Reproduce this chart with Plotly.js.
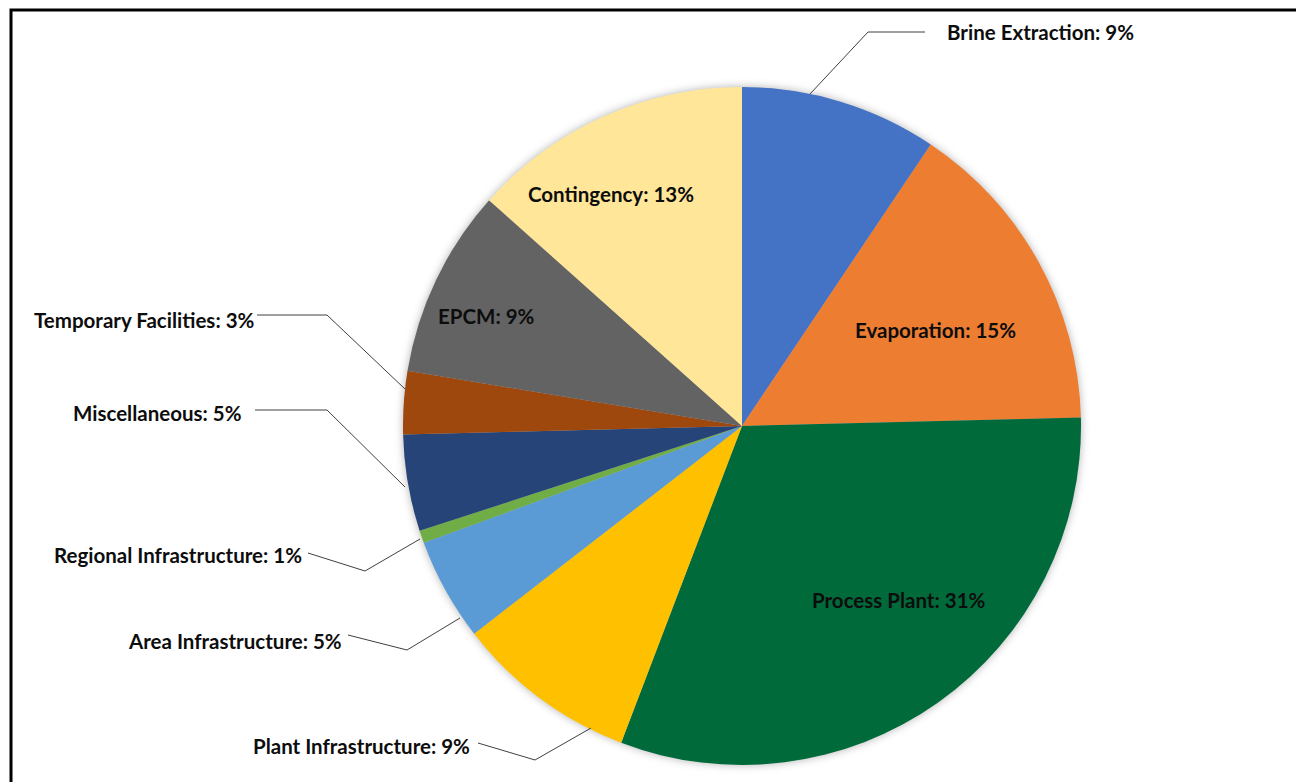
<!DOCTYPE html>
<html>
<head>
<meta charset="utf-8">
<script src="https://cdn.plot.ly/plotly-3.0.1.min.js"></script>
<style>
html,body{margin:0;padding:0;background:#fff;}
#chart{width:1296px;height:782px;}
.pielayer{filter:drop-shadow(0 0 4px rgba(0,0,0,0.30));}
</style>
</head>
<body>
<div id="chart"></div>
<script>
// Data
const categories = ["Brine Extraction","Evaporation","Process Plant","Plant Infrastructure","Area Infrastructure","Regional Infrastructure","Miscellaneous","Temporary Facilities","EPCM","Contingency"];
const shares = [9.4, 15.2, 31.2, 8.7, 4.9, 0.6, 4.6, 3.0, 9.0, 13.4];
const sliceColors = ["#4472C4","#ED7D31","#006A3A","#FFC000","#5B9BD5","#70AD47","#264478","#9E480E","#636363","#FFE699"];

const W = 1296, H = 782;
const px = x => x / W;
const py = y => 1 - y / H;

const total = shares.reduce((a,b)=>a+b,0);
const pctText = i => categories[i] + ": " + Math.round(shares[i] / total * 100) + "%";

// label placement (pixel positions) – layout only
const labelPos = [
  {x:945, y:32, anchor:"left"},
  {x:935, y:330, anchor:"center"},
  {x:899, y:600, anchor:"center"},
  {x:472, y:746, anchor:"right"},
  {x:344, y:641, anchor:"right"},
  {x:304, y:555, anchor:"right"},
  {x:244, y:413, anchor:"right"},
  {x:257, y:320, anchor:"right"},
  {x:486, y:316, anchor:"center"},
  {x:611, y:194, anchor:"center"}
];
// leader line polylines (pixel positions) – layout only
const leaders = [
  [[925,32],[868,32],[810,94]],
  null, null,
  [[478,743],[535,760],[591,728]],
  [[348,635],[407,650],[460,618]],
  [[308,553],[365,571],[420,539]],
  [[255,410],[327,410],[405,487]],
  [[257,315],[327,315],[405,389]],
  null, null
];

const annotations = categories.map((c,i)=>({
  xref:"paper", yref:"paper",
  x: px(labelPos[i].x), y: py(labelPos[i].y),
  xanchor: labelPos[i].anchor, yanchor:"middle",
  text: "<b>" + pctText(i) + "</b>",
  showarrow:false,
  font:{family:"Lato, 'Open Sans', sans-serif", size:20.5, color:"#0d0d0d"}
}));

const shapes = [];
leaders.forEach(pts=>{
  if(!pts) return;
  const d = pts.map((p,k)=>(k?"L":"M")+px(p[0])+","+py(p[1])).join(" ");
  shapes.push({type:"path", xref:"paper", yref:"paper", path:d, line:{color:"#404040", width:1}});
});
// chart frame
shapes.push({type:"rect", xref:"paper", yref:"paper", x0:px(11), y0:py(800), x1:px(1310), y1:py(10), line:{color:"#000", width:3}, fillcolor:"rgba(0,0,0,0)"});

const trace = {
  type:"pie",
  labels: categories,
  values: shares,
  sort:false,
  direction:"clockwise",
  rotation:0,
  marker:{colors:sliceColors, line:{width:0}},
  textinfo:"none",
  hoverinfo:"label+percent",
  domain:{x:[px(403), px(1081)], y:[py(765), py(87)]},
  showlegend:false
};

Plotly.newPlot("chart",[trace],{
  width:W, height:H,
  margin:{l:0,r:0,t:0,b:0},
  paper_bgcolor:"#fff",
  showlegend:false,
  annotations, shapes
},{displayModeBar:false, staticPlot:true});
</script>
</body>
</html>
